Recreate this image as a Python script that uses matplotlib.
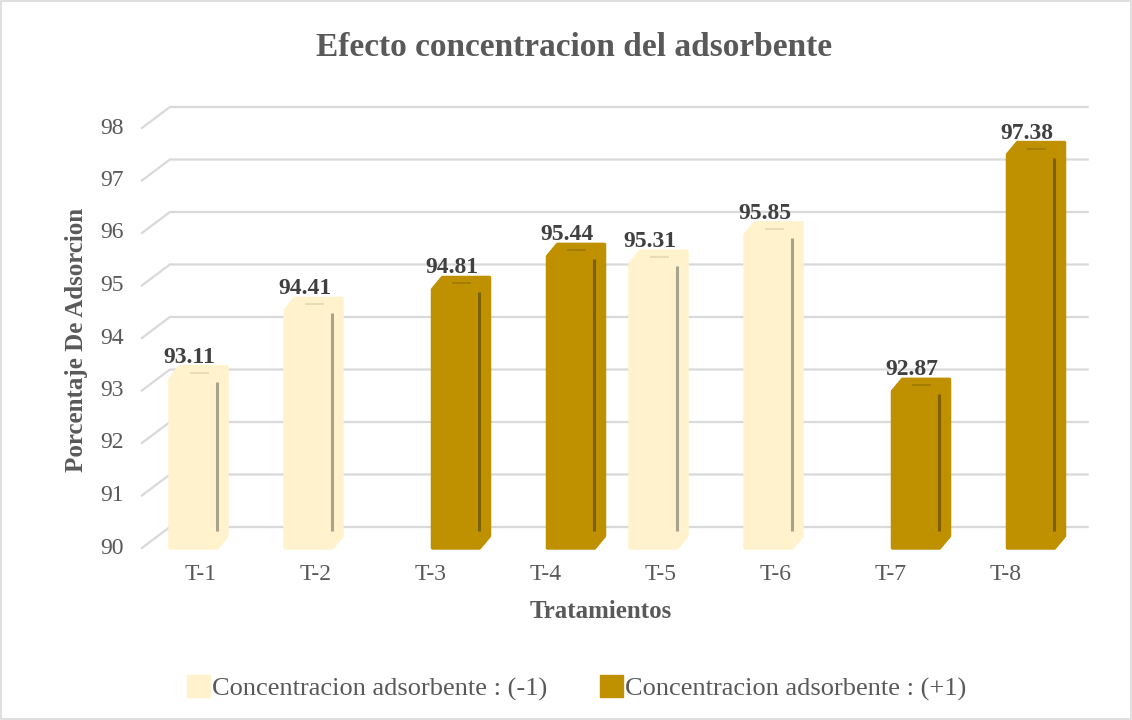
import matplotlib
matplotlib.use("Agg")
import matplotlib.pyplot as plt
from matplotlib.patches import Polygon, Patch, Rectangle

# Datos
tratamientos = ['T-1', 'T-2', 'T-3', 'T-4', 'T-5', 'T-6', 'T-7', 'T-8']
nivel = [-1, -1, 1, 1, -1, -1, 1, 1]
adsorcion = [93.11, 94.41, 94.81, 95.44, 95.31, 95.85, 92.87, 97.38]
ticks_y = [90, 91, 92, 93, 94, 95, 96, 97, 98]
etiquetas_serie = ['Concentracion adsorbente : (-1)', 'Concentracion adsorbente : (+1)']

# Estilos
relleno = {-1: '#FFF2CC', 1: '#BF9000'}
arista = {-1: '#A8A38C', 1: '#7F6000'}
arista_sup = {-1: '#E6DAB4', 1: '#A07A00'}
gris_texto = '#595959'
gris_grilla = '#D9D9D9'

plt.rcParams['font.family'] = ['Liberation Serif', 'DejaVu Serif']

fig = plt.figure(figsize=(11.32, 7.2), dpi=100)
ax = fig.add_axes([152.25 / 1132, 172 / 720, 920 / 1132, 420 / 720])
ax.set_xlim(-0.5, 7.5)
ax.set_ylim(90, 98)
ax.axis('off')


def px(x, y, dx=0, dy=0):
    # punto en datos desplazado dx, dy pixeles
    X, Y = ax.transData.transform((x, y))
    return ax.transData.inverted().transform((X + dx, Y + dy))


# Grilla en la pared del fondo (efecto 3D)
x_izq, x_der = -0.59, 7.39
for g in ticks_y:
    p = [px(x_izq, g), px(x_izq, g, 28, 21), px(x_der, g, 28, 21)]
    ax.plot([q[0] for q in p], [q[1] for q in p], color=gris_grilla, lw=1.6,
            zorder=0, clip_on=False, solid_joinstyle='miter')
    tx, ty = px(x_izq, g, -18, 0)
    ax.text(tx, ty, str(g), ha='right', va='center', fontsize=17, color=gris_texto)

# Barras 3D
ancho = 0.4087
desp = 0.1413
dx, dy = 10, 12
extra = 6  # perspectiva: la cara frontal sube un poco mas
for i, (lab, niv, val) in enumerate(zip(tratamientos, nivel, adsorcion)):
    xc = i + desp * niv
    x0, x1 = xc - ancho / 2, xc + ancho / 2
    verts = [px(x0, 90), px(x0, val, 0, extra), px(x0, val, dx, dy + extra),
             px(x1, val, dx, dy + extra), px(x1, 90, dx, dy), px(x1, 90)]
    ax.add_patch(Polygon(verts, closed=True, facecolor=relleno[niv],
                         edgecolor=relleno[niv], lw=2.5, joinstyle='round',
                         clip_on=False, zorder=2))
    # arista frontal derecha
    a = px(x1, val, 0, extra - 3)
    b = px(x1, 90, 0, 17)
    ax.plot([a[0], b[0]], [a[1], b[1]], color=arista[niv], lw=2.2,
            solid_capstyle='butt', zorder=3, clip_on=False)
    # arista superior
    a = px(xc, val, -2.5, extra + 6)
    b = px(xc, val, 14.5, extra + 6)
    ax.plot([a[0], b[0]], [a[1], b[1]], color=arista_sup[niv], lw=1.3,
            zorder=3, clip_on=False)
    # etiqueta de dato
    tx, ty = px(xc, val, -4, dy + extra + 4)
    ax.text(tx, ty, f'{val:.2f}', ha='center', va='baseline', fontsize=17,
            fontweight='bold', color='#404040', zorder=4)
    # etiqueta de categoria
    tx, ty = px(i, 90, -9, -27)
    ax.text(tx, ty, lab, ha='center', va='center', fontsize=17, color=gris_texto)

# Titulos
fig.text(574 / 1132, 1 - 48 / 720, 'Efecto concentracion del adsorbente',
         ha='center', va='center', fontsize=24, fontweight='bold', color=gris_texto)
fig.text(601 / 1132, 1 - 612 / 720, 'Tratamientos', ha='center', va='center',
         fontsize=18, fontweight='bold', color=gris_texto)
fig.text(77 / 1132, 1 - 340 / 720, 'Porcentaje De Adsorcion', ha='center',
         va='center', rotation=90, fontsize=18, fontweight='bold', color=gris_texto)

# Leyenda
handles = [Patch(facecolor=relleno[-1], edgecolor=relleno[-1], label=etiquetas_serie[0]),
           Patch(facecolor=relleno[1], edgecolor=relleno[1], label=etiquetas_serie[1])]
fig.legend(handles=handles, loc='center', bbox_to_anchor=(577 / 1132, 1 - 688 / 720),
           ncol=2, frameon=False, fontsize=19, handlelength=0.85, handleheight=0.85,
           handletextpad=0.1, columnspacing=2.0, labelcolor=gris_texto)

# Borde del grafico
fig.patches.append(Rectangle((0.001, 0.001), 0.998, 0.997, transform=fig.transFigure,
                             fill=False, edgecolor=gris_grilla, lw=1.2))

fig.savefig('out.png', dpi=100)
